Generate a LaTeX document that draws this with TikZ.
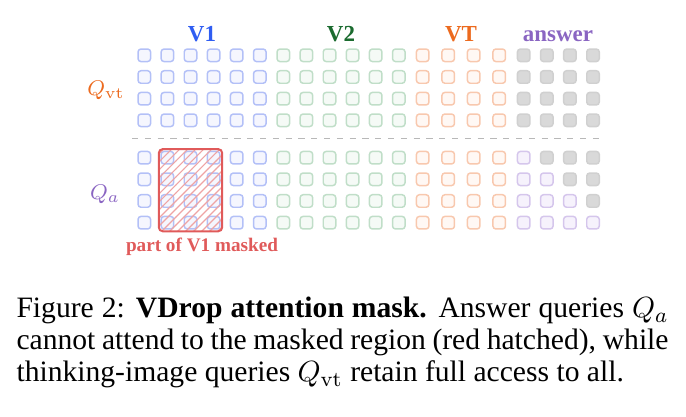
\documentclass[tikz,border=0pt]{standalone}
\usepackage[no-math]{fontspec}
\setmainfont{Liberation Serif}
\usetikzlibrary{patterns, fit, positioning}

\definecolor{vOneLine}{HTML}{B3C0F7}
\definecolor{vOneFill}{HTML}{F5F6FE}
\definecolor{vTwoLine}{HTML}{C0DEC8}
\definecolor{vTwoFill}{HTML}{F5FAF6}
\definecolor{vtLine}{HTML}{F8C8AE}
\definecolor{vtFill}{HTML}{FFF8F4}
\definecolor{ansGray}{HTML}{D9D9D9}
\definecolor{ansLine}{HTML}{D0D0D0}
\definecolor{qaLine}{HTML}{D5C6EC}
\definecolor{qaFill}{HTML}{F6F2FC}
\definecolor{vOneText}{HTML}{2F5DF2}
\definecolor{vTwoText}{HTML}{1B6B2F}
\definecolor{vtText}{HTML}{EC6A1E}
\definecolor{ansText}{HTML}{8A65C2}
\definecolor{maskRed}{HTML}{E05A5A}
\definecolor{sepGray}{HTML}{B8B8B8}

% key columns (x centres) of the image tokens, then the answer tokens
\newcommand{\imgcols}{144.3/v1cell,167.4/v1cell,190.5/v1cell,213.6/v1cell,236.7/v1cell,259.8/v1cell,%
283.3/v2cell,306.4/v2cell,329.5/v2cell,352.6/v2cell,375.7/v2cell,398.8/v2cell,%
422.7/vtcell,448.2/vtcell,473.7/vtcell,499.2/vtcell}
\newcommand{\anscols}{523.7,546.8,569.9,593.0}

\begin{document}
\begin{tikzpicture}[
  x=0.375pt, y=-0.375pt,
  cell/.style={draw, rounded corners=1.1pt, minimum size=4.7pt, inner sep=0pt, line width=0.55pt},
  v1cell/.style={draw=vOneLine, fill=vOneFill},
  v2cell/.style={draw=vTwoLine, fill=vTwoFill},
  vtcell/.style={draw=vtLine, fill=vtFill},
  anscell/.style={draw=ansLine, fill=ansGray},
  qacell/.style={draw=qaLine, fill=qaFill},
  head/.style={font=\bfseries\fontsize{8.6}{10}\selectfont, anchor=base, inner sep=0pt},
  qlab/.style={font=\fontsize{8.5}{10}\selectfont, anchor=base, inner sep=0pt},
  sepline/.style={draw=sepGray, line width=0.5pt, dash pattern=on 2.3pt off 2.5pt},
  maskbox/.style={draw=maskRed, line width=0.75pt, rounded corners=1.5pt,
    pattern=north east lines, pattern color=maskRed!55, inner sep=0.6pt}
]
\useasboundingbox (0,0) rectangle (686,417);

% Column headers
\node[head, text=vOneText] (hV1) at (202,42) {V1};
\node[head, text=vTwoText] (hV2) at (341,42) {V2};
\node[head, text=vtText] (hVT) at (461,42) {VT};
\node[head, text=ansText] (hAns) at (558,42) {answer};

% Query labels
\node[qlab, text=vtText] (qVT) at (106,96) {$Q_{\mathrm{vt}}$};
\node[qlab, text=ansText] (qA) at (105,200) {$Q_a$};

% Q_vt rows: full access
\foreach \r/\ry in {1/55.3, 2/77, 3/98.7, 4/120.3} {
  \foreach \cx/\kind [count=\c] in \imgcols
    \node[cell, \kind] (vt-\r-\c) at (\cx,\ry) {};
  \foreach \cx [count=\c] in \anscols
    \node[cell, anscell] (vtans-\r-\c) at (\cx,\ry) {};
}

% separator
\coordinate (sepL) at (132,138.3);
\coordinate (sepR) at (603,138.3);
\draw[sepline] (sepL) -- (sepR);

% Q_a rows: causal over the answer tokens
\foreach \r/\ry in {1/157.7, 2/179.3, 3/201, 4/222.7} {
  \foreach \cx/\kind [count=\c] in \imgcols
    \node[cell, \kind] (a-\r-\c) at (\cx,\ry) {};
  \foreach \cx [count=\c] in \anscols {
    \ifnum\c>\r \def\kind{anscell}\else\def\kind{qacell}\fi
    \node[cell, \kind] (aans-\r-\c) at (\cx,\ry) {};
  }
}

% masked part of V1
\node[maskbox, fit=(a-1-2)(a-4-4)] (mask) {};
\node[font=\bfseries\fontsize{7.2}{9}\selectfont, text=maskRed, anchor=base, inner sep=0pt]
  (maskLab) at (202,251) {part of V1 masked};

% Caption
\node[anchor=north west, inner sep=0pt, text width=244.5pt, align=justify,
  font=\fontsize{11.1}{12}\selectfont] (cap) at (16,294.9)
  {\strut Figure 2: \textbf{VDrop attention mask.} Answer queries $Q_a$\linebreak
   cannot attend to the masked region (red hatched), while\linebreak
   thinking-image queries $Q_{\mathrm{vt}}$ retain full access to all.};
\end{tikzpicture}
\end{document}
